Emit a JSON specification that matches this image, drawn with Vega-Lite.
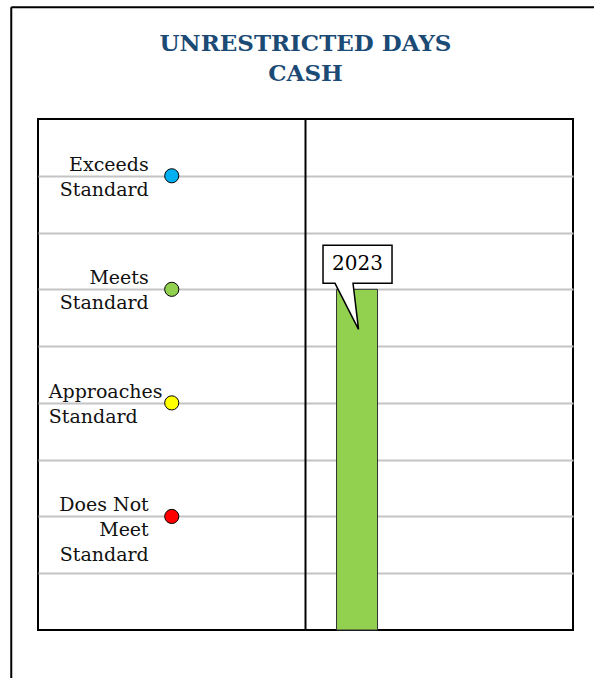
{
  "$schema": "https://vega.github.io/schema/vega-lite/v6.json",
  "width": 535,
  "height": 511,
  "autosize": {"type": "none"},
  "padding": {"left": 38, "top": 119, "right": 21, "bottom": 48},
  "background": "white",
  "title": {
    "text": ["UNRESTRICTED DAYS", "CASH"],
    "anchor": "middle",
    "frame": "group",
    "font": "DejaVu Serif",
    "fontSize": 23,
    "fontWeight": "bold",
    "color": "#1B4A75",
    "lineHeight": 30,
    "offset": 0,
    "dy": 80
  },
  "config": {
    "font": "DejaVu Serif",
    "view": {"stroke": "black", "strokeWidth": 2}
  },
  "datasets": {
    "ratings": [
      {"status": "Exceeds", "label": "Exceeds\nStandard", "level": 8},
      {"status": "Meets", "label": "Meets\nStandard", "level": 6},
      {"status": "Approaches", "label": "Approaches\nStandard", "level": 4},
      {"status": "Does Not Meet", "label": "Does Not\nMeet\nStandard", "level": 2}
    ],
    "bars": [
      {"year": "2023", "level": 6}
    ]
  },
  "layer": [
    {
      "data": {"values": [{}]},
      "mark": {"type": "rule", "color": "black", "strokeWidth": 2, "clip": false},
      "encoding": {
        "x": {"datum": -0.5, "type": "quantitative", "scale": {"domain": [0, 10], "nice": false, "zero": false, "padding": 0}, "axis": null},
        "y": {"datum": 10.97, "type": "quantitative", "scale": {"domain": [0, 9], "nice": false, "zero": false, "padding": 0},
              "axis": {"values": [1, 2, 3, 4, 5, 6, 7, 8], "grid": true, "gridColor": "#c4c4c4", "gridWidth": 2, "labels": false, "ticks": false, "domain": false, "title": null}},
        "y2": {"datum": -3}
      }
    },
    {
      "data": {"values": [{}]},
      "mark": {"type": "rule", "color": "black", "strokeWidth": 2, "clip": false},
      "encoding": {
        "x": {"datum": -0.5, "type": "quantitative"},
        "x2": {"datum": 12},
        "y": {"datum": 10.97, "type": "quantitative"}
      }
    },
    {
      "data": {"values": [{}]},
      "mark": {"type": "rule", "color": "black", "strokeWidth": 2},
      "encoding": {
        "x": {"datum": 5, "type": "quantitative"}
      }
    },
    {
      "data": {"name": "bars"},
      "mark": {"type": "bar", "orient": "vertical", "width": 41, "fill": "#92D050", "stroke": "#333333", "strokeWidth": 1},
      "encoding": {
        "x": {"datum": 5.963, "type": "quantitative"},
        "y": {"field": "level", "type": "quantitative"},
        "y2": {"datum": 0}
      }
    },
    {
      "data": {"name": "bars"},
      "mark": {"type": "point", "filled": true, "fill": "white", "stroke": "black", "strokeWidth": 1.5, "opacity": 1, "size": 4,
               "shape": "M -34 -44 L 35 -44 L 35 -6 L -4 -6 L 1.5 40 L -22 -6 L -34 -6 Z"},
      "encoding": {
        "x": {"datum": 5.963, "type": "quantitative"},
        "y": {"field": "level", "type": "quantitative"}
      }
    },
    {
      "data": {"name": "bars"},
      "mark": {"type": "text", "fontSize": 20, "align": "center", "baseline": "alphabetic", "dx": 0.5, "dy": -19, "color": "black"},
      "encoding": {
        "x": {"datum": 5.963, "type": "quantitative"},
        "y": {"field": "level", "type": "quantitative"},
        "text": {"field": "year"}
      }
    },
    {
      "data": {"name": "ratings"},
      "mark": {"type": "point", "filled": true, "shape": "circle", "size": 200, "stroke": "black", "strokeWidth": 1, "opacity": 1},
      "encoding": {
        "x": {"datum": 2.5, "type": "quantitative"},
        "y": {"field": "level", "type": "quantitative"},
        "fill": {"field": "status", "type": "nominal",
                 "scale": {"domain": ["Exceeds", "Meets", "Approaches", "Does Not Meet"], "range": ["#00B0F0", "#92D050", "#FFFF00", "#FF0000"]},
                 "legend": null}
      }
    },
    {
      "data": {"name": "ratings"},
      "transform": [{"filter": "datum.status !== 'Approaches'"}],
      "mark": {"type": "text", "fontSize": 19, "align": "right", "baseline": "alphabetic", "dx": -23, "dy": -5, "lineBreak": "\n", "lineHeight": 25, "color": "#111111"},
      "encoding": {
        "x": {"datum": 2.5, "type": "quantitative"},
        "y": {"field": "level", "type": "quantitative"},
        "text": {"field": "label"}
      }
    },
    {
      "data": {"name": "ratings"},
      "transform": [{"filter": "datum.status === 'Approaches'"}],
      "mark": {"type": "text", "fontSize": 19, "align": "left", "baseline": "alphabetic", "dx": -123, "dy": -5, "lineBreak": "\n", "lineHeight": 25, "color": "#111111"},
      "encoding": {
        "x": {"datum": 2.5, "type": "quantitative"},
        "y": {"field": "level", "type": "quantitative"},
        "text": {"field": "label"}
      }
    }
  ]
}
